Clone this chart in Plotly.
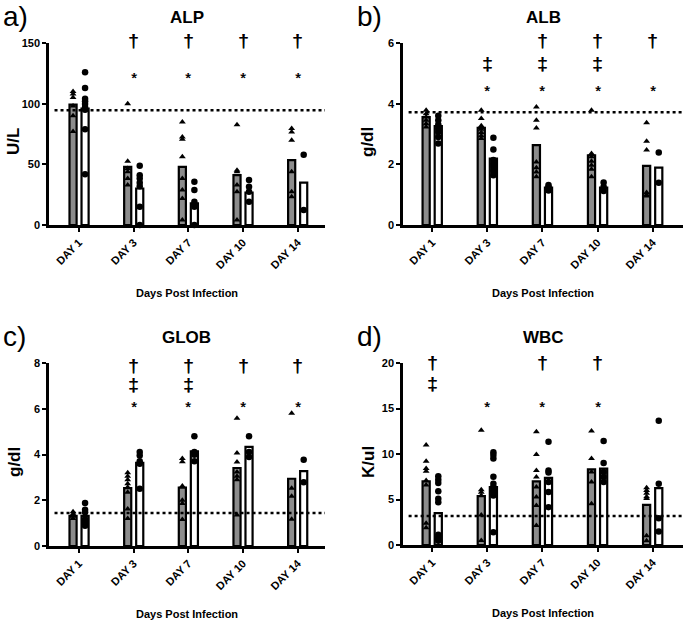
import plotly.graph_objects as go
from plotly.subplots import make_subplots

DAYS = ["DAY 1", "DAY 3", "DAY 7", "DAY 10", "DAY 14"]

# ALP (U/L)  - group 1 = grey bars / triangles, group 2 = white bars / circles
alp_bar_1 = [99.2, 47.9, 47.9, 41.1, 53.4]
alp_bar_2 = [95.9, 30.1, 17.8, 26.8, 35.0]
alp_pts_1 = [[110, 108, 105, 98, 90, 77], [100, 52.6, 46.6, 43.8, 38.4, 32.9],
             [84.9, 72.6, 70.7, 56.2, 38.4, 28.8, 21.9, 4.1], [82.7, 45.2, 43.8, 32.9, 27.4, 4.1],
             [79.5, 76.7, 69.9, 43.8, 27.4, 23.3]]
alp_pts_2 = [[125.8, 112.9, 104, 102, 99.7, 97, 95, 78.9, 41.9], [48.8, 41, 38.4, 34.8, 32, 15, 0],
             [35.6, 28.8, 19.2, 17, 15, 0], [37, 31.5, 27.4, 19.2], [58, 12.3]]
alp_ref = 94.5
alp_sig = ["", "†*", "†*", "†*", "†*"]

# ALB (g/dl)
alb_bar_1 = [3.56, 3.2, 2.63, 2.3, 1.95]
alb_bar_2 = [3.26, 2.19, 1.23, 1.23, 1.89]
alb_pts_1 = [[3.78, 3.67, 3.56, 3.45, 3.34, 3.23], [3.78, 3.51, 3.27, 3.16, 3.05, 2.94, 2.85],
             [3.89, 3.45, 3.2, 2.08, 1.89, 1.75, 1.59], [3.78, 2.36, 2.25, 2.1, 1.97, 1.84, 1.59],
             [3.37, 2.76, 2.47, 1.07, 1.0, 0.96]]
alb_pts_2 = [[3.6, 3.45, 3.31, 3.18, 3.07, 2.9, 2.69], [2.88, 2.49, 2.14, 2.03, 1.92, 1.79, 1.64],
             [1.32, 1.26, 1.21, 1.14], [1.4, 1.26, 1.12], [2.39, 1.39]]
alb_ref = 3.72
alb_sig = ["", "‡*", "†‡*", "†‡*", "†*"]

# GLOB (g/dl)
glob_bar_1 = [1.32, 2.53, 2.55, 3.41, 2.94]
glob_bar_2 = [1.32, 3.64, 4.14, 4.33, 3.27]
glob_pts_1 = [[1.5, 1.4, 1.35, 1.3, 1.2], [3.2, 3.05, 2.9, 2.72, 2.57, 2.35, 1.62, 1.2],
              [3.83, 3.68, 2.62, 2.0, 1.86, 1.16], [5.58, 4.07, 3.67, 3.23, 3.05, 2.9, 1.35],
              [5.8, 2.53, 2.17, 1.17]]
glob_pts_2 = [[1.88, 1.59, 1.47, 1.17, 1.03, 0.88], [4.11, 3.96, 3.7, 3.6, 2.5],
              [4.8, 4.11, 3.99, 3.7], [4.8, 4.11, 3.89], [3.77, 2.79]]
glob_ref = 1.44
glob_sig = ["", "†‡*", "†‡*", "†*", "†*"]

# WBC (K/ul)
wbc_bar_1 = [7.0, 5.38, 7.0, 8.32, 4.42]
wbc_bar_2 = [3.5, 6.37, 7.37, 8.4, 6.26]
wbc_pts_1 = [[11.0, 9.2, 8.4, 8.1, 7.1, 6.6, 2.4, 1.9], [12.6, 6.08, 5.8, 5.45, 3.3, 0.5],
             [12.45, 9.95, 8.2, 7.48, 6.37, 5.27, 4.35, 2.14], [12.52, 9.5, 8.03, 6.92, 4.53],
             [6.3, 6.0, 5.7, 5.3, 5.1, 1.03, 0.48]]
wbc_pts_2 = [[7.55, 7.18, 6.8, 5.9, 5.08, 4.7, 1.14, 0.85, 0.66, 0.48],
             [10.2, 9.9, 9.5, 7.5, 6.74, 6.37, 6.0, 5.75, 5.45, 1.4],
             [11.34, 8.2, 7.96, 6.92, 5.82, 4.16], [11.42, 9.02, 8.03, 7.48, 6.92],
             [13.66, 6.74, 2.95, 1.47]]
wbc_ref = 3.2
wbc_sig = ["†‡", "*", "†*", "†*", ""]

FONT = "Liberation Sans, Arial, sans-serif"
W, H = 685, 623

# levels are fractions of the y axis height (y domain)
panels = [
    dict(letter="a)", title="ALP", unit="U/L", ymax=150, dtick=50,
         bar1=alp_bar_1, bar2=alp_bar_2, pts1=alp_pts_1, pts2=alp_pts_2, ref=alp_ref, sig=alp_sig,
         levels={"†": 1.013, "‡": 0.91, "*": 0.81}),
    dict(letter="b)", title="ALB", unit="g/dl", ymax=6, dtick=2,
         bar1=alb_bar_1, bar2=alb_bar_2, pts1=alb_pts_1, pts2=alb_pts_2, ref=alb_ref, sig=alb_sig,
         levels={"†": 1.013, "‡": 0.885, "*": 0.74}),
    dict(letter="c)", title="GLOB", unit="g/dl", ymax=8, dtick=2,
         bar1=glob_bar_1, bar2=glob_bar_2, pts1=glob_pts_1, pts2=glob_pts_2, ref=glob_ref, sig=glob_sig,
         levels={"†": 0.985, "‡": 0.88, "*": 0.76}),
    dict(letter="d)", title="WBC", unit="K/ul", ymax=20, dtick=5,
         bar1=wbc_bar_1, bar2=wbc_bar_2, pts1=wbc_pts_1, pts2=wbc_pts_2, ref=wbc_ref, sig=wbc_sig,
         levels={"†": 1.005, "‡": 0.885, "*": 0.76}),
]

# pixel boxes of each plot area: (left, right, top, bottom)
boxes = [(49, 325, 43, 225), (403, 683, 43, 225), (49, 325, 363, 546), (403, 683, 363, 545)]
xranges = [[-0.55, 4.5], [-0.53, 4.55], [-0.55, 4.5], [-0.53, 4.55]]

fig = make_subplots(rows=2, cols=2)

OFF = 0.11
BW = 0.13
annotations = []
shapes = []


def paper_note(px, py, text, size, **kw):
    return dict(x=px / W, y=1 - py / H, xref="paper", yref="paper", text=text, showarrow=False,
                xanchor=kw.pop("xanchor", "center"), yanchor="middle",
                font=dict(family=FONT, size=size, color="black"), **kw)


for k, p in enumerate(panels):
    row, col = k // 2 + 1, k % 2 + 1
    idx = list(range(len(DAYS)))
    x1 = [i - OFF for i in idx]
    x2 = [i + OFF for i in idx]

    fig.add_trace(go.Bar(x=x1, y=p["bar1"], width=BW, marker=dict(color="#8c8c8c", line=dict(color="black", width=2.2)),
                         showlegend=False), row=row, col=col)
    fig.add_trace(go.Bar(x=x2, y=p["bar2"], width=BW, marker=dict(color="white", line=dict(color="black", width=2.2)),
                         showlegend=False), row=row, col=col)

    tx, ty, cx, cy = [], [], [], []
    for i in idx:
        tx += [x1[i]] * len(p["pts1"][i])
        ty += p["pts1"][i]
        cx += [x2[i]] * len(p["pts2"][i])
        cy += p["pts2"][i]
    fig.add_trace(go.Scatter(x=tx, y=ty, mode="markers", cliponaxis=False,
                             marker=dict(symbol="triangle-up", size=6, color="black"), showlegend=False),
                  row=row, col=col)
    fig.add_trace(go.Scatter(x=cx, y=cy, mode="markers", cliponaxis=False,
                             marker=dict(symbol="circle", size=6.5, color="black"), showlegend=False),
                  row=row, col=col)

    l, r, t, b = boxes[k]
    sfx = "" if k == 0 else str(k + 1)
    fig.update_layout(**{
        "xaxis" + sfx: dict(domain=[l / W, r / W], range=xranges[k], tickvals=idx, ticktext=DAYS,
                            tickangle=-45, showgrid=False, zeroline=False, showline=True, automargin=False,
                            linecolor="black", linewidth=2.5, ticks="outside", ticklen=4, tickwidth=2,
                            tickcolor="black", tickfont=dict(family=FONT, size=11, color="black", weight="bold"),
                            anchor="y" + sfx),
        "yaxis" + sfx: dict(domain=[1 - b / H, 1 - t / H], range=[0, p["ymax"]], dtick=p["dtick"],
                            showgrid=False, zeroline=False, showline=True, automargin=False,
                            linecolor="black", linewidth=2.5,
                            ticks="outside", ticklen=4, tickwidth=2, tickcolor="black",
                            tickfont=dict(family=FONT, size=11, color="black", weight="bold"),
                            anchor="x" + sfx),
    })

    xref, yref = "x" + sfx, "y" + sfx
    shapes.append(dict(type="line", xref=xref + " domain", x0=0.02, x1=1, yref=yref, y0=p["ref"], y1=p["ref"],
                       line=dict(color="black", width=2.5, dash="3px,3px")))

    for i, marks in enumerate(p["sig"]):
        for m in marks:
            annotations.append(dict(x=i, y=p["levels"][m], xref=xref, yref=yref + " domain", text=m,
                                    showarrow=False, yanchor="middle", xanchor="center",
                                    font=dict(family=FONT, size=19 if m != "*" else 15, color="black",
                                              shadow="0.5px 0px 0px #000")))

    top_row = t < 100
    annotations.append(paper_note((l + r) / 2, 17 if top_row else 337, "<b>%s</b>" % p["title"], 17))
    annotations.append(paper_note(l - 35, t + 99, "<b>%s</b>" % p["unit"], 17, textangle=-90))
    annotations.append(paper_note((l + r) / 2, b + 68, "<b>Days Post Infection</b>", 11))
    annotations.append(paper_note(l - 48, 16 if top_row else 336, p["letter"], 28, xanchor="left"))

fig.update_layout(
    template="none",
    width=W, height=H,
    margin=dict(l=0, r=0, t=0, b=0),
    plot_bgcolor="white", paper_bgcolor="white",
    barmode="overlay",
    annotations=annotations,
    shapes=shapes,
    showlegend=False,
)

fig.write_html("out.html", config={"displayModeBar": False},
               post_script="document.body.style.margin='0px';")
